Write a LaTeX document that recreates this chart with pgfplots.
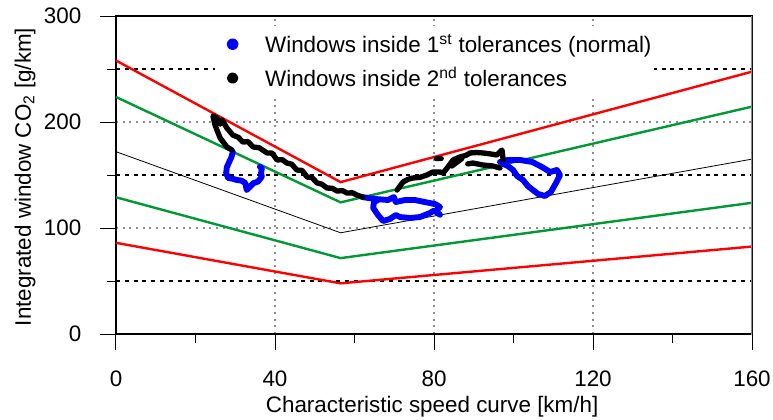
\documentclass[border=0pt]{standalone}
\usepackage{fontspec}
\setmainfont{Liberation Sans}
\usepackage{pgfplots}
\pgfplotsset{compat=1.18}
\definecolor{xlgreen}{RGB}{0,153,51}
\definecolor{gridgrey}{RGB}{140,140,140}
\newcommand{\fs}{\fontsize{16.8}{20.2}\selectfont}
\begin{document}
\begin{tikzpicture}
\path[use as bounding box] (-87pt,-63.75pt) rectangle (492.75pt,250.5pt);
\begin{axis}[
  at={(0pt,0pt)}, anchor=south west,
  scale only axis, width=477pt, height=238.5pt,
  xmin=0, xmax=160, ymin=0, ymax=300,
  xtick={0,40,80,120,160}, ytick={0,100,200,300},
  minor xtick={20,60,100,140}, minor ytick={50,150,250},
  xtick pos=bottom, ytick pos=left,
  tick align=outside,
  major tick length=12pt, minor tick length=6.75pt,
  every tick/.style={black, line width=0.75pt},
  axis line style={line width=1pt},
  xmajorgrids, ymajorgrids, yminorgrids,
  major grid style={gridgrey, line width=1.5pt, dash pattern=on 1.5pt off 3.5pt},
  minor grid style={black, line width=1.5pt, dash pattern=on 3pt off 3.6pt},
  /pgf/number format/assume math mode=true,
  tick label style={font=\fs},
  xticklabel style={yshift=-12.3pt},
  yticklabel style={xshift=-10.5pt},
  label style={font=\fs},
  xlabel={Characteristic speed curve [km/h]},
  ylabel={Integrated window CO\textsubscript{2} [g/km]},
  xlabel style={at={(axis description cs:0.497,-0.2296)}, anchor=center},
  ylabel style={at={(axis description cs:-0.143,0.494)}, anchor=center},
  unbounded coords=jump,
  legend style={at={(0.1557,0.9686)}, anchor=north west, draw=none, fill=white,
    font=\fs, inner xsep=0pt, inner ysep=3.75pt, row sep=5.6pt},
  legend cell align=left,
  legend image code/.code={\path (0pt,0pt) (31pt,0pt); \fill[#1] (10.8pt,0pt) circle (2.2pt);},
]
% tolerance bands
\addplot[red, line width=1.8pt, forget plot] coordinates {(0,258) (56.5,143.3) (160,247.5)};
\addplot[xlgreen, line width=1.8pt, forget plot] coordinates {(0,223.6) (56.5,124.2) (160,214.5)};
\addplot[black, line width=0.6pt, forget plot] coordinates {(0,172) (56.5,95.5) (160,165)};
\addplot[xlgreen, line width=1.8pt, forget plot] coordinates {(0,129) (56.5,71.6) (160,123.8)};
\addplot[red, line width=1.8pt, forget plot] coordinates {(0,86) (56.5,47.8) (160,82.5)};
% windows inside 1st tolerances
\addplot[blue, line width=4.4pt, line join=round, line cap=round] coordinates {
 (29.4,171.7) (29.0,166.5) (28.7,164.2) (27.9,157.5) (27.7,152) (28.2,147.2) (29.3,146.5) (30.4,145.3)
 (31.5,144.8) (32.5,142.5) (32.9,135.8) (33.7,139.0) (34.6,142.4) (35.7,143.7) (36.7,148.4) (36.5,152) (36.7,156.3) (36.2,157.8)
 (nan,nan)
 (61.9,129.2) (65.2,127.4) (68.4,126.4) (69.9,129.2) (70.4,124.5) (72.7,126.4) (75.2,126.4)
 (77.7,124.5) (80.3,122.6) (81.5,119.8) (80.5,116.0) (81.5,112.5) (80.0,116.5) (79.0,114.2) (76.5,110.4) (74.0,109.4)
 (71.4,110.4) (70.4,112.3) (68.9,108.5) (67.2,106.6) (65.9,112.3) (64.7,118.9) (64.9,124.5) (65.9,126.4)
 (nan,nan)
 (96.6,162.3) (98.6,164.2) (101.6,164.2) (104.7,162.3) (107.2,157.5) (109.2,152.8) (110.9,154.7)
 (111.7,150.0) (110.7,142.5) (109.4,134.0) (107.9,130.2) (106.2,132.1) (104.9,135.8) (103.6,139.6)
 (102.4,145.3) (100.9,149.1) (99.9,154.7) (98.6,158.5) (97.4,160.4)
};
\addlegendentry{Windows inside 1\textsuperscript{st} tolerances (normal)}
% windows inside 2nd tolerances
\addplot[black, line width=4.0pt, line join=round, line cap=round] coordinates {
 (29.2,173.6) (27.9,176.4) (26.2,184.9) (24.9,197.2) (24.4,205.7) (25.4,203.8) (26.2,198) (26.7,201.9)
 (27.9,194.3) (29.4,187.7) (30.8,185.5) (31.9,181.1) (33.2,181.5) (34.5,176.4) (36.0,175.8) (38.0,170.8)
 (39.3,170.6) (40.5,164.2) (41.8,164.5) (43.0,161.3) (44.2,160.2) (45.5,154.7) (46.8,154.3) (48.1,148.1)
 (49.3,147.5) (50.6,142.5) (51.8,141.3) (53.1,137.7) (54.4,137.5) (55.6,134.9) (57.0,135.2) (58.1,133.0)
 (59.5,133.2) (60.6,131.1) (62.1,129.2)
 (nan,nan)
 (70.7,135.8) (72.2,143.4) (73.5,146) (74.7,147.2) (76.5,147.8) (78.2,150.0) (79.7,152.8) (81.5,152.8)
 (82.3,151.9) (83.5,157.5) (84.8,164.2) (86.5,167.0) (88,168.5) (89.1,170.8) (90.8,171.2) (92.3,170.8)
 (94,170) (95.8,168.9) (97.1,173.6) (97.4,164.2)
 (nan,nan)
 (88.5,160.5) (89.8,161.3) (92.3,159.4) (94.8,158.5) (96.6,156.6)
 (nan,nan)
 (84.5,158.5) (87.0,165.5)
 (nan,nan)
 (80.6,165.5) (81.8,165.5)
};
\addlegendentry{Windows inside 2\textsuperscript{nd} tolerances}
\draw[gridgrey, line width=1.5pt] (axis cs:160,0) ++(0pt,-12pt) -- (axis cs:160,300);
\end{axis}
\end{tikzpicture}
\end{document}
